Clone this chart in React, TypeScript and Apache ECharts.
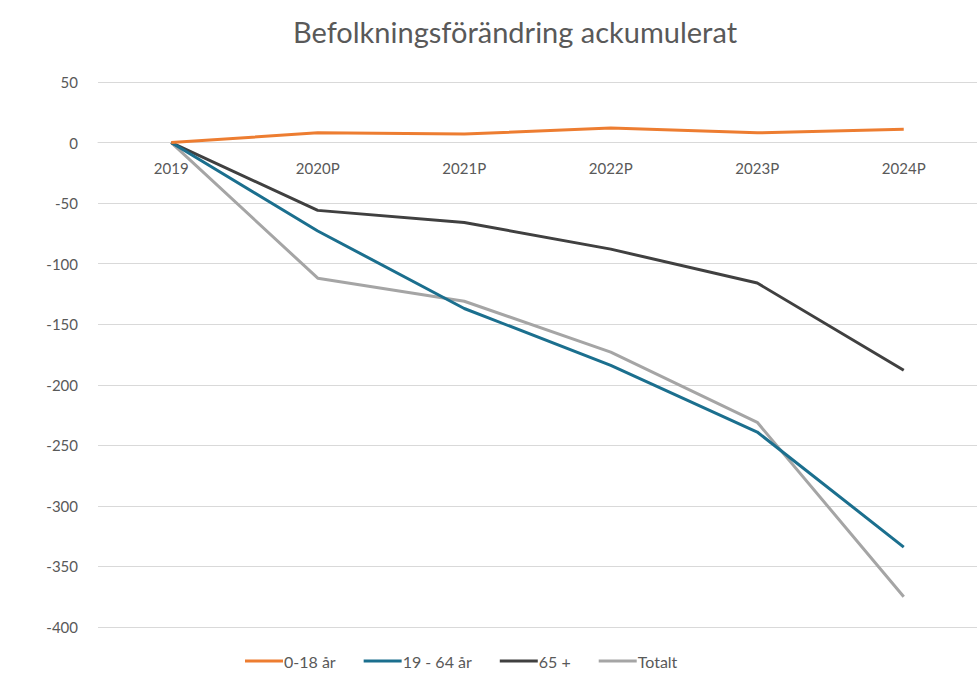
import React, { useEffect, useRef } from "react";
import * as echarts from "echarts";

const categories = ["2019", "2020P", "2021P", "2022P", "2023P", "2024P"];
const seriesNames = ["0-18 år", "19 - 64 år", "65 +", "Totalt"];
const young = [0, 8, 7, 12, 8, 11];
const working = [0, -73, -137, -184, -239, -334];
const elderly = [0, -56, -66, -88, -116, -188];
const total = [0, -112, -131, -173, -231, -375];
const yTicks = { min: -400, max: 50, interval: 50 };
const colors = ["#ED7D31", "#1B6F8E", "#404040", "#A5A5A5"];

export default function App() {
  const ref = useRef<HTMLDivElement>(null);
  useEffect(() => {
    if (!ref.current) return;
    const chart = echarts.init(ref.current, undefined, { renderer: "svg" });
    const font = "Lato, 'Open Sans', sans-serif";
    const data = [young, working, elderly, total];
    const gridTop = 82;
    const gridBottom = 57;
    const gridHeight = 684 - gridTop - gridBottom;
    const zeroOffset =
      -gridHeight * ((0 - yTicks.min) / (yTicks.max - yTicks.min));
    chart.setOption({
      animation: false,
      backgroundColor: "#ffffff",
      title: {
        text: "Befolkningsförändring ackumulerat",
        left: 510,
        top: 12,
        textAlign: "center",
        textStyle: { fontFamily: font, fontSize: 29, fontWeight: "normal", color: "#595959" },
      },
      legend: {
        bottom: 10,
        left: 240,
        icon: "rect",
        itemWidth: 38,
        itemHeight: 3,
        itemGap: 28,
        textStyle: { fontFamily: font, fontSize: 16, color: "#595959", padding: [0, 0, 0, -4] },
        data: seriesNames,
      },
      grid: { left: 98, right: -27, top: gridTop, bottom: gridBottom, containLabel: false },
      xAxis: {
        type: "category",
        data: categories,
        boundaryGap: true,
        position: "bottom",
        offset: zeroOffset,
        axisLine: { onZero: false, lineStyle: { color: "#D9D9D9", width: 1 } },
        axisTick: { show: false },
        axisLabel: { margin: 18, fontFamily: font, fontSize: 15, color: "#595959" },
        splitLine: { show: false },
      },
      yAxis: {
        type: "value",
        min: yTicks.min,
        max: yTicks.max,
        interval: yTicks.interval,
        axisLine: { show: false },
        axisTick: { show: false },
        axisLabel: { margin: 20, fontFamily: font, fontSize: 15, color: "#595959" },
        splitLine: { lineStyle: { color: "#D9D9D9", width: 1 } },
      },
      series: seriesNames.map((name, i) => ({
        name,
        type: "line",
        data: data[i],
        symbol: "none",
        lineStyle: { color: colors[i], width: 3 },
        itemStyle: { color: colors[i] },
        z: 4 - i,
      })),
    });
    return () => chart.dispose();
  }, []);
  return (
    <div
      ref={ref}
      style={{ position: "fixed", left: 0, top: 0, width: 977, height: 684 }}
    />
  );
}
